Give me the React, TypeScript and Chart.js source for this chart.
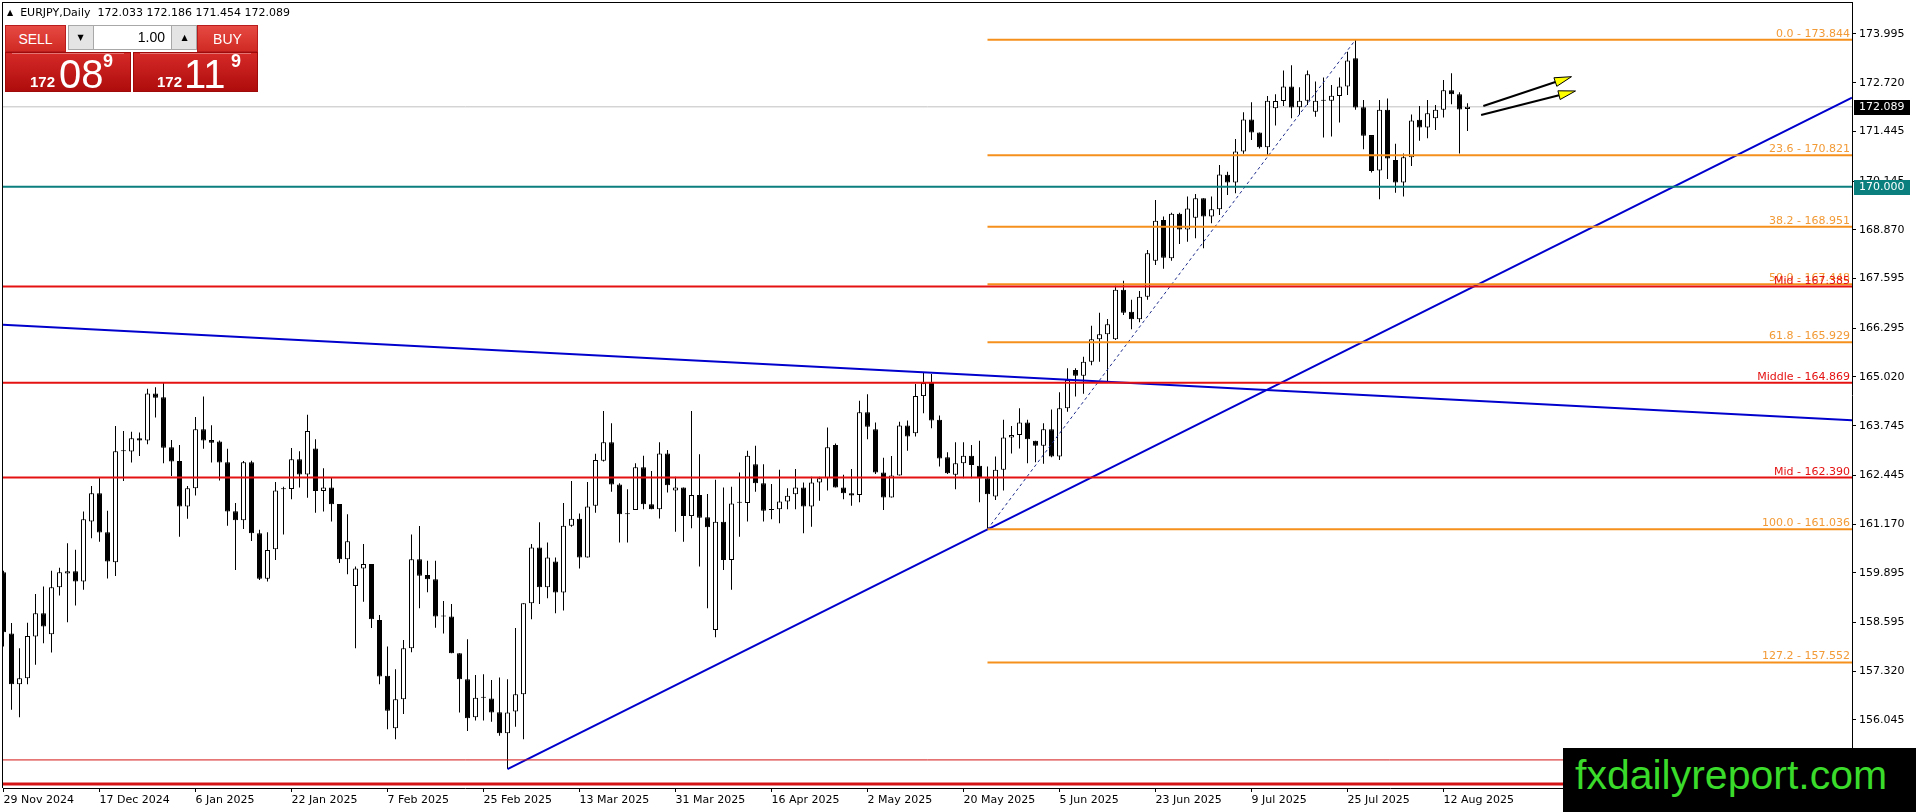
import React, { useEffect, useRef } from "react";
import { Chart, registerables } from "chart.js";

Chart.register(...registerables);

const AXIS_FONT = '"DejaVu Sans", Verdana, sans-serif';
const PANEL_FONT = '"Liberation Sans", Arial, sans-serif';

// ---- Daily EURJPY bars, index 0 = 29 Nov 2024 ----
const OPEN = [
  159.91, 158.31, 156.98, 157.14, 158.23, 158.84, 158.29, 159.52, 159.88, 159.94,
  159.67, 161.24, 161.98, 160.96, 160.17, 163.08, 163.07, 163.42, 163.36, 164.59,
  164.49, 163.18, 162.82, 161.63, 162.11, 163.65, 163.37, 163.33, 162.79, 161.51,
  161.27, 162.79, 160.93, 159.74, 160.51, 162.08, 162.09, 162.87, 162.47, 163.15,
  162.04, 162.13, 161.70, 160.25, 159.55, 160.01, 160.13, 158.66, 157.20, 155.83,
  156.59, 157.92, 160.25, 159.84, 159.73, 158.75, 158.75, 157.79, 157.11, 156.12,
  156.63, 156.61, 156.25, 155.70, 156.27, 156.72, 159.10, 160.56, 159.52, 160.19,
  159.38, 161.13, 161.31, 160.30, 161.65, 162.83, 163.31, 162.21, 161.43, 161.54,
  162.66, 161.69, 161.56, 163.02, 162.05, 162.13, 161.38, 161.93, 161.35, 158.40,
  161.23, 160.23, 161.73, 161.72, 162.74, 162.24, 161.54, 161.56, 161.76, 161.95,
  162.13, 161.63, 162.26, 162.37, 163.24, 162.13, 161.98, 161.93, 164.10, 163.65,
  162.52, 161.87, 162.44, 163.75, 163.55, 164.52, 164.86, 163.90, 162.92, 162.46,
  162.76, 162.96, 162.70, 162.37, 161.89, 162.59, 163.44, 163.50, 163.83, 163.35,
  163.22, 163.65, 162.94, 164.20, 165.20, 165.05, 165.42, 166.01, 166.14, 166.01,
  167.30, 166.73, 166.53, 167.12, 168.06, 169.13, 168.13, 169.29, 168.88, 169.19,
  169.70, 169.22, 169.41, 170.31, 170.11, 170.92, 171.76, 171.42, 171.03, 172.05,
  172.24, 172.62, 172.08, 172.25, 171.96, 172.25, 172.25, 172.37, 172.62, 173.36,
  172.08, 171.35, 170.42, 172.01, 170.70, 170.11, 170.77, 171.75, 171.55, 171.79,
  172.01, 172.52, 172.42, 172.033,
];
const HIGH = [
  159.95, 158.58, 157.92, 158.59, 159.34, 159.54, 159.95, 160.03, 160.67, 160.50,
  161.50, 162.17, 162.40, 161.52, 163.74, 163.61, 163.59, 163.57, 164.71, 164.75,
  164.86, 163.37, 163.24, 162.17, 163.97, 164.51, 163.76, 163.36, 163.14, 161.72,
  162.82, 162.83, 161.02, 160.96, 162.27, 162.15, 163.16, 163.08, 164.03, 163.39,
  162.63, 162.40, 161.70, 161.43, 160.06, 160.65, 160.13, 158.79, 157.97, 157.37,
  158.14, 160.90, 161.12, 160.21, 160.21, 159.16, 159.08, 157.79, 158.16, 157.22,
  157.24, 157.09, 157.16, 157.11, 158.45, 159.10, 160.65, 161.22, 160.69, 160.30,
  161.72, 162.30, 161.45, 162.27, 163.01, 164.13, 163.81, 162.24, 162.08, 162.76,
  162.96, 162.56, 163.31, 163.11, 162.41, 162.13, 164.13, 163.00, 161.96, 162.33,
  162.13, 162.15, 162.52, 163.09, 163.22, 162.74, 162.22, 162.59, 162.11, 162.61,
  162.26, 162.41, 162.41, 163.70, 163.28, 162.46, 162.61, 164.40, 164.57, 163.83,
  162.91, 162.95, 163.85, 163.88, 164.84, 165.13, 165.10, 164.01, 163.05, 163.31,
  163.31, 163.24, 163.35, 162.68, 162.94, 163.90, 163.74, 164.20, 163.90, 163.35,
  163.81, 164.17, 164.62, 165.25, 165.25, 165.55, 166.36, 166.70, 166.54, 167.41,
  167.54, 167.04, 167.27, 168.34, 169.65, 169.22, 169.32, 169.32, 169.74, 169.81,
  169.70, 169.74, 170.57, 170.39, 171.25, 171.95, 172.21, 171.42, 172.37, 172.42,
  173.04, 173.18, 172.60, 173.04, 172.75, 172.86, 172.66, 172.86, 173.53, 173.844,
  172.27, 171.35, 172.27, 172.31, 171.12, 170.87, 171.89, 172.11, 172.27, 172.14,
  172.79, 172.97, 172.47, 172.186,
];
const LOW = [
  157.97, 156.31, 156.12, 156.98, 157.49, 158.05, 157.81, 159.30, 158.60, 159.04,
  159.45, 160.80, 160.71, 159.75, 159.81, 162.30, 162.78, 162.95, 163.26, 163.96,
  162.76, 162.43, 160.84, 161.31, 161.92, 163.14, 162.78, 162.31, 161.13, 159.97,
  161.04, 160.73, 159.71, 159.67, 160.23, 160.90, 161.82, 162.13, 161.86, 161.47,
  161.50, 161.24, 160.15, 159.86, 157.92, 159.14, 158.45, 156.98, 155.80, 155.54,
  156.20, 157.82, 158.97, 159.39, 158.46, 158.31, 157.79, 156.24, 155.76, 156.03,
  156.03, 156.00, 155.63, 154.76, 155.87, 155.54, 158.68, 159.08, 159.23, 158.84,
  158.91, 161.10, 160.01, 160.30, 161.47, 162.81, 162.02, 160.69, 160.69, 161.54,
  161.56, 161.56, 161.32, 162.00, 160.97, 160.71, 161.06, 160.06, 158.97, 158.21,
  159.97, 159.45, 160.84, 161.24, 162.02, 161.24, 161.30, 161.19, 161.56, 161.56,
  160.93, 161.10, 161.78, 162.05, 162.13, 161.82, 161.65, 161.74, 163.39, 162.48,
  161.54, 161.87, 162.44, 163.09, 163.46, 164.07, 163.68, 162.68, 162.48, 162.08,
  162.37, 162.37, 161.74, 161.036, 161.80, 162.05, 163.02, 163.15, 162.76, 162.79,
  162.75, 162.92, 162.85, 164.11, 164.51, 164.58, 165.33, 165.42, 164.90, 165.99,
  166.64, 166.27, 166.45, 167.04, 167.95, 167.85, 168.06, 168.50, 168.56, 168.65,
  168.39, 169.04, 169.26, 169.78, 169.83, 170.86, 171.22, 171.00, 170.83, 171.60,
  172.11, 171.79, 171.88, 172.14, 171.83, 171.29, 171.31, 171.68, 172.40, 172.01,
  170.98, 170.37, 169.67, 170.20, 169.84, 169.74, 170.54, 171.20, 171.27, 171.48,
  171.81, 172.16, 170.87, 171.454,
];
const CLOSE = [
  158.34, 156.98, 157.14, 158.24, 158.84, 158.49, 159.52, 159.91, 159.94, 159.67,
  161.30, 161.98, 160.95, 160.19, 163.08, 163.09, 163.42, 163.36, 164.59, 164.48,
  163.17, 162.81, 161.63, 162.11, 163.65, 163.36, 163.30, 162.78, 161.50, 161.27,
  162.79, 160.93, 159.74, 160.49, 162.05, 162.08, 162.87, 162.47, 163.61, 162.04,
  162.13, 161.69, 160.25, 160.72, 160.01, 160.13, 158.68, 157.18, 156.29, 156.59,
  157.92, 160.25, 159.82, 159.73, 158.75, 158.75, 157.79, 157.11, 156.09, 156.63,
  156.63, 156.24, 155.70, 156.24, 156.72, 159.10, 160.56, 159.52, 160.30, 159.38,
  161.13, 161.31, 160.30, 161.63, 162.85, 163.31, 162.21, 161.43, 161.43, 162.66,
  161.69, 161.56, 163.02, 162.19, 162.13, 161.38, 161.93, 161.34, 161.09, 161.23,
  160.23, 161.71, 161.73, 162.96, 162.24, 161.52, 161.54, 161.76, 161.91, 162.13,
  161.63, 162.26, 162.37, 163.18, 162.13, 161.98, 161.92, 164.10, 163.72, 162.52,
  161.87, 162.44, 163.75, 163.46, 164.52, 164.86, 163.88, 162.89, 162.50, 162.76,
  162.96, 162.72, 162.37, 161.95, 162.59, 163.44, 163.50, 163.83, 163.39, 163.22,
  163.65, 162.94, 164.20, 164.94, 165.05, 165.42, 166.01, 166.14, 166.40, 167.30,
  166.70, 166.53, 167.12, 168.26, 169.11, 168.14, 169.29, 168.88, 169.43, 169.70,
  169.22, 169.41, 170.32, 170.11, 170.92, 171.76, 171.42, 171.03, 172.25, 172.24,
  172.62, 172.07, 172.25, 172.94, 172.25, 172.25, 172.38, 172.62, 173.30, 172.07,
  171.33, 170.41, 172.01, 170.74, 170.11, 170.77, 171.73, 171.55, 171.92, 172.01,
  172.52, 172.42, 172.02, 172.089,
];

// ---- axes ----
const DATE_TICK_BARS = [0, 12, 24, 36, 48, 60, 72, 84, 96, 108, 120, 132, 144, 156, 168, 180];
const DATE_TICK_LABELS = [
  "29 Nov 2024", "17 Dec 2024", "6 Jan 2025", "22 Jan 2025", "7 Feb 2025", "25 Feb 2025",
  "13 Mar 2025", "31 Mar 2025", "16 Apr 2025", "2 May 2025", "20 May 2025", "5 Jun 2025",
  "23 Jun 2025", "9 Jul 2025", "25 Jul 2025", "12 Aug 2025",
];
const PRICE_TICKS = [
  173.995, 172.72, 171.445, 170.145, 168.87, 167.595, 166.295, 165.02,
  163.745, 162.445, 161.17, 159.895, 158.595, 157.32, 156.045,
];
const X_MIN = -0.0625;
const X_MAX = 231.0625;
const Y_MIN = 154.2655;
const Y_MAX = 174.8323;

// ---- drawn objects ----
const FIB_NAMES = ["0.0", "23.6", "38.2", "50.0", "61.8", "100.0", "127.2"];
const FIB_LEVELS = [173.844, 170.821, 168.951, 167.448, 165.929, 161.036, 157.552];
const FIB_START_BAR = 123;
const FIB_END_BAR = 169;
const RED_NAMES = ["Middle", "Mid", "Mid"];
const RED_LEVELS = [164.869, 162.39, 167.385];
const BOTTOM_LEVELS = [155.0, 154.37];
const BOTTOM_WIDTHS = [1, 3];
const SUPPORT_LEVEL = 170.0;
const BID_PRICE = 172.089;
const UP_TREND_X = [63, X_MAX];
const UP_TREND_Y = [154.76, 172.33];
const DOWN_TREND_X = [X_MIN, X_MAX];
const DOWN_TREND_Y = [166.39, 163.89];
const ARROW_FROM_X = [184.98, 184.7];
const ARROW_FROM_Y = [172.111, 171.876];
const ARROW_TO_X = [196.0, 196.5];
const ARROW_TO_Y = [172.878, 172.504];

const FIB_COLOR = "#F5901C";
const FIB_TEXT = "#F29A36";
const RED = "#E51212";
const BLUE = "#0000CD";
const TEAL = "#0B7E7E";

function lineDs(xs: number[], ys: number[], color: string, width: number, order = 0, dash: number[] = []) {
  return {
    type: "line",
    data: xs.map((x, i) => ({ x, y: ys[i] })),
    borderColor: color,
    borderWidth: width,
    borderDash: dash,
    pointRadius: 0,
    pointHoverRadius: 0,
    fill: false,
    tension: 0,
    order,
  };
}

function buildDatasets() {
  const ds: any[] = [];
  ds.push(lineDs([X_MIN, X_MAX], [BID_PRICE, BID_PRICE], "#C0C0C0", 1, 3));
  ds.push({
    type: "bar",
    data: LOW.map((l, i) => ({ x: i, y: [l, HIGH[i]] })),
    backgroundColor: "#000",
    borderWidth: 0,
    barThickness: 1,
    grouped: false,
    inflateAmount: 0,
    order: 2,
  });
  ds.push({
    type: "bar",
    data: OPEN.map((o, i) => ({ x: i, y: [o, CLOSE[i]] })),
    backgroundColor: CLOSE.map((c, i) => (c >= OPEN[i] ? "#FFFFFF" : "#000000")),
    borderColor: "#000",
    borderWidth: 1,
    borderSkipped: false,
    barThickness: 5,
    grouped: false,
    minBarLength: 1,
    inflateAmount: 0,
    order: 1,
  });
  BOTTOM_LEVELS.forEach((lv, i) => ds.push(lineDs([X_MIN, X_MAX], [lv, lv], "#D41414", BOTTOM_WIDTHS[i], 0)));
  RED_LEVELS.forEach((lv) => ds.push(lineDs([X_MIN, X_MAX], [lv, lv], RED, 2, 0)));
  FIB_LEVELS.forEach((lv) => ds.push(lineDs([FIB_START_BAR, X_MAX], [lv, lv], FIB_COLOR, 2, 0)));
  ds.push(lineDs([X_MIN, X_MAX], [SUPPORT_LEVEL, SUPPORT_LEVEL], TEAL, 2, 0));
  ds.push(lineDs([FIB_START_BAR, FIB_END_BAR], [FIB_LEVELS[5], FIB_LEVELS[0]], "#1B2A8A", 1, 0, [3, 3]));
  ds.push(lineDs(DOWN_TREND_X, DOWN_TREND_Y, BLUE, 2, 0));
  ds.push(lineDs(UP_TREND_X, UP_TREND_Y, BLUE, 2, 0));
  return ds;
}

const overlayPlugin = {
  id: "mt4overlay",
  afterDatasetsDraw(chart: any) {
    const { ctx, chartArea: a, scales } = chart;
    const xs = scales.x;
    const ys = scales.y;
    ctx.save();
    ctx.font = `11px ${AXIS_FONT}`;
    ctx.textAlign = "right";
    ctx.textBaseline = "alphabetic";
    FIB_LEVELS.forEach((lv, i) => {
      ctx.fillStyle = FIB_TEXT;
      ctx.fillText(`${FIB_NAMES[i]} - ${lv.toFixed(3)}`, a.right - 2, ys.getPixelForValue(lv) - 3);
    });
    RED_LEVELS.forEach((lv, i) => {
      ctx.fillStyle = RED;
      ctx.fillText(`${RED_NAMES[i]} - ${lv.toFixed(3)}`, a.right - 2, ys.getPixelForValue(lv) - 3);
    });
    // arrows
    ARROW_FROM_X.forEach((_, i) => {
      const x1 = xs.getPixelForValue(ARROW_FROM_X[i]);
      const y1 = ys.getPixelForValue(ARROW_FROM_Y[i]);
      const x2 = xs.getPixelForValue(ARROW_TO_X[i]);
      const y2 = ys.getPixelForValue(ARROW_TO_Y[i]);
      const ang = Math.atan2(y2 - y1, x2 - x1);
      const L = 17;
      const W = 4.5;
      const bx = x2 - L * Math.cos(ang);
      const by = y2 - L * Math.sin(ang);
      ctx.strokeStyle = "#000";
      ctx.lineWidth = 2;
      ctx.beginPath();
      ctx.moveTo(x1, y1);
      ctx.lineTo(bx, by);
      ctx.stroke();
      ctx.beginPath();
      ctx.moveTo(x2, y2);
      ctx.lineTo(bx - W * Math.sin(ang), by + W * Math.cos(ang));
      ctx.lineTo(bx + W * Math.sin(ang), by - W * Math.cos(ang));
      ctx.closePath();
      ctx.fillStyle = "#FFFF00";
      ctx.fill();
      ctx.lineWidth = 1;
      ctx.stroke();
    });
    // frame (top + left)
    ctx.fillStyle = "#000";
    ctx.fillRect(a.left - 1, a.top, a.right - a.left + 1, 1);
    ctx.fillRect(a.left - 1, a.top, 1, a.bottom - a.top);
    ctx.restore();
  },
  afterDraw(chart: any) {
    const { ctx, chartArea: a, scales } = chart;
    const ys = scales.y;
    ctx.save();
    ctx.font = `11px ${AXIS_FONT}`;
    ctx.textAlign = "left";
    ctx.textBaseline = "middle";
    const boxes = [
      { v: SUPPORT_LEVEL, bg: TEAL },
      { v: BID_PRICE, bg: "#000000" },
    ];
    boxes.forEach((b) => {
      const py = Math.round(ys.getPixelForValue(b.v));
      ctx.fillStyle = b.bg;
      ctx.fillRect(a.right + 2, py - 7, 56, 15);
      ctx.fillStyle = "#FFFFFF";
      ctx.fillText(b.v.toFixed(3), a.right + 7, py + 0.5);
    });
    ctx.restore();
  },
};

export default function App() {
  const ref = useRef<HTMLCanvasElement>(null);

  useEffect(() => {
    document.body.style.margin = "0";
    Chart.defaults.font.family = AXIS_FONT;
    Chart.defaults.font.size = 11;
    Chart.defaults.color = "#000";
    const canvas = ref.current;
    if (!canvas) return;
    const gridCommon = {
      display: true,
      drawOnChartArea: false,
      drawTicks: true,
      tickLength: 4,
      color: "#000",
      offset: false,
    };
    const chart = new Chart(canvas, {
      type: "bar",
      data: { datasets: buildDatasets() } as any,
      options: {
        responsive: false,
        maintainAspectRatio: false,
        animation: false,
        devicePixelRatio: 1,
        events: [],
        layout: { padding: { left: 3, top: 2, right: 0, bottom: 0 }, autoPadding: false },
        plugins: { legend: { display: false }, tooltip: { enabled: false } },
        scales: {
          x: {
            type: "linear",
            min: X_MIN,
            max: X_MAX,
            offset: false,
            bounds: "data",
            grid: gridCommon,
            border: { display: true, color: "#000", width: 1 },
            ticks: {
              autoSkip: false,
              maxRotation: 0,
              minRotation: 0,
              align: "start",
              padding: 2,
              color: "#000",
              font: { family: AXIS_FONT, size: 11 },
              callback: (_v: any, i: number) => DATE_TICK_LABELS[i] ?? "",
            },
            afterBuildTicks: (s: any) => {
              s.ticks = DATE_TICK_BARS.map((v) => ({ value: v }));
            },
            afterFit: (s: any) => {
              s.height = 24;
              s.paddingLeft = 0;
              s.paddingRight = 0;
            },
          },
          y: {
            type: "linear",
            position: "right",
            min: Y_MIN,
            max: Y_MAX,
            beginAtZero: false,
            bounds: "data",
            grid: gridCommon,
            border: { display: true, color: "#000", width: 1 },
            ticks: {
              autoSkip: false,
              padding: 3,
              color: "#000",
              font: { family: AXIS_FONT, size: 11 },
              callback: (v: any) => Number(v).toFixed(3),
            },
            afterBuildTicks: (s: any) => {
              s.ticks = PRICE_TICKS.map((v) => ({ value: v }));
            },
            afterFit: (s: any) => {
              s.width = 64;
              s.paddingTop = 0;
              s.paddingBottom = 0;
            },
          },
        },
      } as any,
      plugins: [overlayPlugin as any],
    });
    return () => chart.destroy();
  }, []);

  const btn: any = {
    position: "absolute",
    top: 25,
    height: 27,
    boxSizing: "border-box",
    background: "linear-gradient(#e64a42, #d02a24)",
    border: "1px solid #b81c1c",
    color: "#fff",
    fontFamily: PANEL_FONT,
    fontSize: 14,
    display: "flex",
    alignItems: "center",
    justifyContent: "center",
  };
  const priceBox: any = {
    position: "absolute",
    top: 52,
    height: 40,
    boxSizing: "border-box",
    background: "linear-gradient(#d52a28, #ae0c0c)",
    border: "1px solid #9e0a0a",
    color: "#fff",
    fontFamily: PANEL_FONT,
    overflow: "hidden",
  };
  const small: any = { position: "absolute", top: 21, fontSize: 15, fontWeight: "bold", lineHeight: "15px" };
  const big: any = { position: "absolute", top: 1, fontSize: 40, lineHeight: "40px" };
  const sup: any = { position: "absolute", top: -1, fontSize: 18, fontWeight: "bold", lineHeight: "19px" };

  return (
    <div style={{ position: "relative", width: 1916, height: 812, overflow: "hidden", background: "#fff" }}>
      <canvas ref={ref} width={1916} height={812} style={{ display: "block", width: 1916, height: 812 }} />

      {/* header */}
      <div
        style={{
          position: "absolute",
          left: 7,
          top: 6,
          fontFamily: AXIS_FONT,
          fontSize: 11,
          lineHeight: "13px",
          color: "#000",
          whiteSpace: "pre",
        }}
      >
        <span style={{ fontSize: 8, verticalAlign: "1px" }}>▲</span>
        {"  EURJPY,Daily  172.033 172.186 171.454 172.089"}
      </div>

      {/* trade panel */}
      <div style={{ ...btn, left: 5, width: 61 }}>SELL</div>
      <div
        style={{
          position: "absolute",
          left: 68,
          top: 25,
          width: 129,
          height: 25,
          boxSizing: "border-box",
          background: "#e4e4e4",
          border: "1px solid #a8a8a8",
        }}
      >
        <div style={{ position: "absolute", left: 0, top: 0, width: 23, height: 23, fontSize: 8, display: "flex", alignItems: "center", justifyContent: "center", fontFamily: AXIS_FONT }}>▼</div>
        <div
          style={{
            position: "absolute",
            left: 24,
            top: 0,
            width: 79,
            height: 23,
            background: "#fff",
            borderLeft: "1px solid #a8a8a8",
            borderRight: "1px solid #a8a8a8",
            boxSizing: "border-box",
            fontFamily: PANEL_FONT,
            fontSize: 14,
            textAlign: "right",
            paddingRight: 6,
            lineHeight: "23px",
          }}
        >
          1.00
        </div>
        <div style={{ position: "absolute", left: 104, top: 0, width: 23, height: 23, fontSize: 8, display: "flex", alignItems: "center", justifyContent: "center", fontFamily: AXIS_FONT }}>▲</div>
      </div>
      <div style={{ ...btn, left: 197, width: 61 }}>BUY</div>

      <div style={{ ...priceBox, left: 5, width: 126 }}>
        <div style={{ position: "absolute", left: 6, right: 6, top: 0, height: 1, background: "rgba(255,255,255,0.35)" }} />
        <span style={{ ...small, left: 24 }}>172</span>
        <span style={{ ...big, left: 53 }}>08</span>
        <span style={{ ...sup, left: 97 }}>9</span>
      </div>
      <div style={{ ...priceBox, left: 133, width: 125 }}>
        <div style={{ position: "absolute", left: 6, right: 6, top: 0, height: 1, background: "rgba(255,255,255,0.35)" }} />
        <span style={{ ...small, left: 23 }}>172</span>
        <span style={{ ...big, left: 50 }}>11</span>
        <span style={{ ...sup, left: 97 }}>9</span>
      </div>

      {/* watermark */}
      <div style={{ position: "absolute", left: 1563, top: 748, width: 353, height: 64, background: "#000", overflow: "hidden" }}>
        <div
          style={{
            position: "absolute",
            left: 12,
            top: 7,
            fontFamily: PANEL_FONT,
            fontSize: 41,
            lineHeight: "41px",
            color: "#3ADB2A",
            whiteSpace: "nowrap",
          }}
        >
          fxdailyreport.com
        </div>
      </div>
    </div>
  );
}
